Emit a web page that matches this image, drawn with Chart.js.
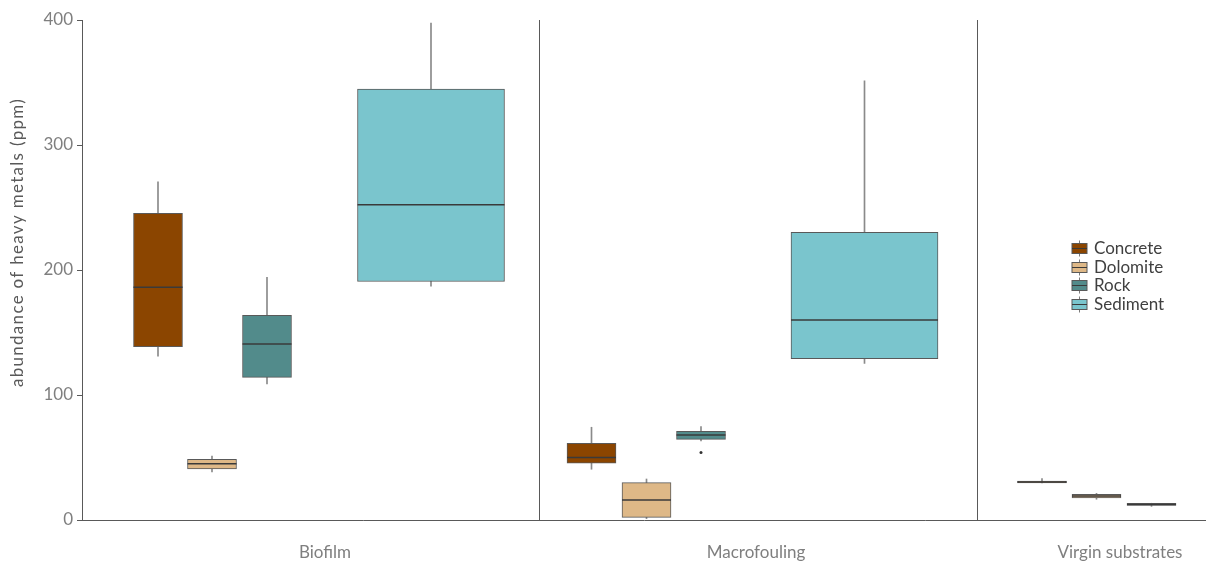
<!DOCTYPE html>
<html>
<head>
<meta charset="utf-8">
<script src="https://cdn.jsdelivr.net/npm/chart.js@4/dist/chart.umd.min.js"></script>
<style>
  html, body { margin: 0; padding: 0; background: #ffffff; }
  #wrap { width: 1206px; height: 563px; position: relative; }
</style>
</head>
<body>
<div id="wrap"><canvas id="chart" width="1206" height="563"></canvas></div>
<script>
// Sampling sites along the x axis
const categories = ['Biofilm', 'Macrofouling', 'Virgin substrates'];
// Substrate types (one box per site)
const substrates = ['Concrete', 'Dolomite', 'Rock', 'Sediment'];

// Five-number summaries per site: [min, q1, median, q3, max]
const concreteStats = [[131, 138.6, 186.2, 245.4, 270.6], [40.6, 45.4, 50, 61.4, 74.2], [29.6, 29.6, 30.4, 31.2, 33.2]];
const dolomiteStats = [[38.4, 40.8, 45, 48.5, 51.2], [1.1, 2.1, 16, 29.9, 32.8], [16.6, 17.6, 19.2, 20.5, 21.3]];
const rockStats     = [[108.8, 114.1, 140.8, 163.7, 194.1], [63.2, 64.5, 68, 70.9, 74.7], [10.9, 11.7, 12.5, 13.3, 13.4]];
const sedimentStats = [[187, 190.8, 252.3, 344.8, 397.6], [125.3, 129, 160, 230.1, 351.4], null];
// Points beyond the whiskers
const rockOutliers  = [[], [54.1], []];

const yTicks = [0, 100, 200, 300, 400];

const statsBySubstrate = [concreteStats, dolomiteStats, rockStats, sedimentStats];
const outliersBySubstrate = [[[], [], []], [[], [], []], rockOutliers, [[], [], []]];

// ---- layout (x scale runs in plot units across the plot width) ----
const X_MAX = 1124;
const boxCentres = [
  [76, 130, 185, 349],
  [509.5, 564.5, 619, 782.5],
  [960, 1014.5, 1069.5, null]
];
const labelCentres = [243, 674, 1038];
const dividers = [457, 895];
const boxWidths = [49, 49, 49, 147];
const fills = ['#8B4500', '#DEB887', '#528B8B', '#7AC5CD'];
const EDGE = '#595959';
const FONT = 'Lato, "Open Sans", sans-serif';

const datasets = [];
substrates.forEach((name, k) => {
  const stats = statsBySubstrate[k];
  const whiskers = [], boxes = [], medians = [], outs = [];
  categories.forEach((cat, i) => {
    const s = stats[i];
    const x = boxCentres[i][k];
    if (!s || x == null) return;
    whiskers.push({ x, y: [s[0], s[4]] });
    boxes.push({ x, y: [s[1], s[3]] });
    medians.push({ x, y: s[2] });
    outliersBySubstrate[k][i].forEach(v => outs.push({ x, y: v }));
  });
  datasets.push({
    type: 'bar', label: name + ' whisker', data: whiskers, order: 30 + k,
    grouped: false, barThickness: 1, backgroundColor: '#8a8a8a', borderWidth: 0
  });
  datasets.push({
    type: 'bar', label: name, data: boxes, order: 20 + k,
    grouped: false, barThickness: boxWidths[k], backgroundColor: fills[k],
    borderColor: EDGE, borderWidth: 1, borderSkipped: false
  });
  datasets.push({
    type: 'scatter', label: name + ' median', data: medians, order: 10 + k,
    pointStyle: 'line', pointRadius: boxWidths[k] / 2, pointHoverRadius: boxWidths[k] / 2,
    borderColor: '#3a3a3a', borderWidth: 1.5, showLine: false
  });
  if (outs.length) {
    datasets.push({
      type: 'scatter', label: name + ' outlier', data: outs, order: k,
      pointStyle: 'circle', pointRadius: 1.5, backgroundColor: '#333333',
      borderColor: '#333333', borderWidth: 0, showLine: false
    });
  }
});

// Legend drawn inside the plot area, with a small box-plot glyph per substrate
const boxLegend = {
  id: 'boxLegend',
  afterDraw(chart) {
    const ctx = chart.ctx;
    const x0 = 1072, y0 = 248, step = 18.7;
    ctx.save();
    substrates.forEach((name, k) => {
      const cy = Math.round(y0 + k * step) + 0.5;
      ctx.strokeStyle = '#7a7a7a';
      ctx.lineWidth = 1;
      ctx.beginPath();
      ctx.moveTo(x0 + 7.5, cy - 8); ctx.lineTo(x0 + 7.5, cy + 8);
      ctx.stroke();
      ctx.fillStyle = fills[k];
      ctx.fillRect(x0, cy - 5, 15, 10);
      ctx.strokeStyle = EDGE;
      ctx.strokeRect(x0, cy - 5, 15, 10);
      ctx.beginPath();
      ctx.moveTo(x0, cy); ctx.lineTo(x0 + 15, cy);
      ctx.strokeStyle = '#3a3a3a';
      ctx.stroke();
      ctx.fillStyle = '#404040';
      ctx.font = '17px ' + FONT;
      ctx.textBaseline = 'middle';
      ctx.textAlign = 'left';
      ctx.fillText(name, x0 + 22, cy);
    });
    ctx.restore();
  }
};

// Vertical axis title
const yTitle = {
  id: 'yTitle',
  afterDraw(chart) {
    const ctx = chart.ctx;
    const area = chart.chartArea;
    ctx.save();
    ctx.translate(18, area.top + (area.bottom - area.top) * 0.445);
    ctx.rotate(-Math.PI / 2);
    ctx.fillStyle = '#595959';
    ctx.font = '17px ' + FONT;
    if ('letterSpacing' in ctx) ctx.letterSpacing = '1.3px';
    ctx.textAlign = 'center';
    ctx.textBaseline = 'middle';
    ctx.fillText('abundance of heavy metals (ppm)', 0, 0);
    ctx.restore();
  }
};

new Chart(document.getElementById('chart'), {
  type: 'bar',
  data: { datasets },
  options: {
    responsive: false,
    animation: false,
    events: [],
    layout: { autoPadding: false, padding: { top: 20, right: 0, bottom: 0, left: 0 } },
    plugins: { legend: { display: false }, tooltip: { enabled: false } },
    scales: {
      x: {
        type: 'linear', min: 0, max: X_MAX, offset: false,
        afterBuildTicks: axis => {
          axis.ticks = [...labelCentres, ...dividers].sort((a, b) => a - b).map(v => ({ value: v }));
        },
        afterFit: axis => { axis.height = 43; },
        ticks: {
          autoSkip: false, maxRotation: 0, padding: 22,
          color: '#7f7f7f', font: { family: FONT, size: 17 },
          callback: v => {
            const i = labelCentres.indexOf(v);
            return i >= 0 ? categories[i] : '';
          }
        },
        grid: {
          offset: false,
          drawTicks: false,
          color: c => (c.tick && dividers.includes(c.tick.value)) ? EDGE : 'rgba(0,0,0,0)',
          lineWidth: 1
        },
        border: { display: true, color: EDGE, width: 1 }
      },
      y: {
        min: 0, max: 400,
        afterBuildTicks: axis => { axis.ticks = yTicks.map(v => ({ value: v })); },
        afterFit: axis => { axis.width = 82; },
        ticks: { color: '#7f7f7f', padding: 4, font: { family: FONT, size: 17 } },
        grid: { display: true, drawOnChartArea: false, drawTicks: true, tickLength: 5, color: EDGE },
        border: { display: true, color: EDGE, width: 1 }
      }
    }
  },
  plugins: [boxLegend, yTitle]
});
</script>
</body>
</html>
